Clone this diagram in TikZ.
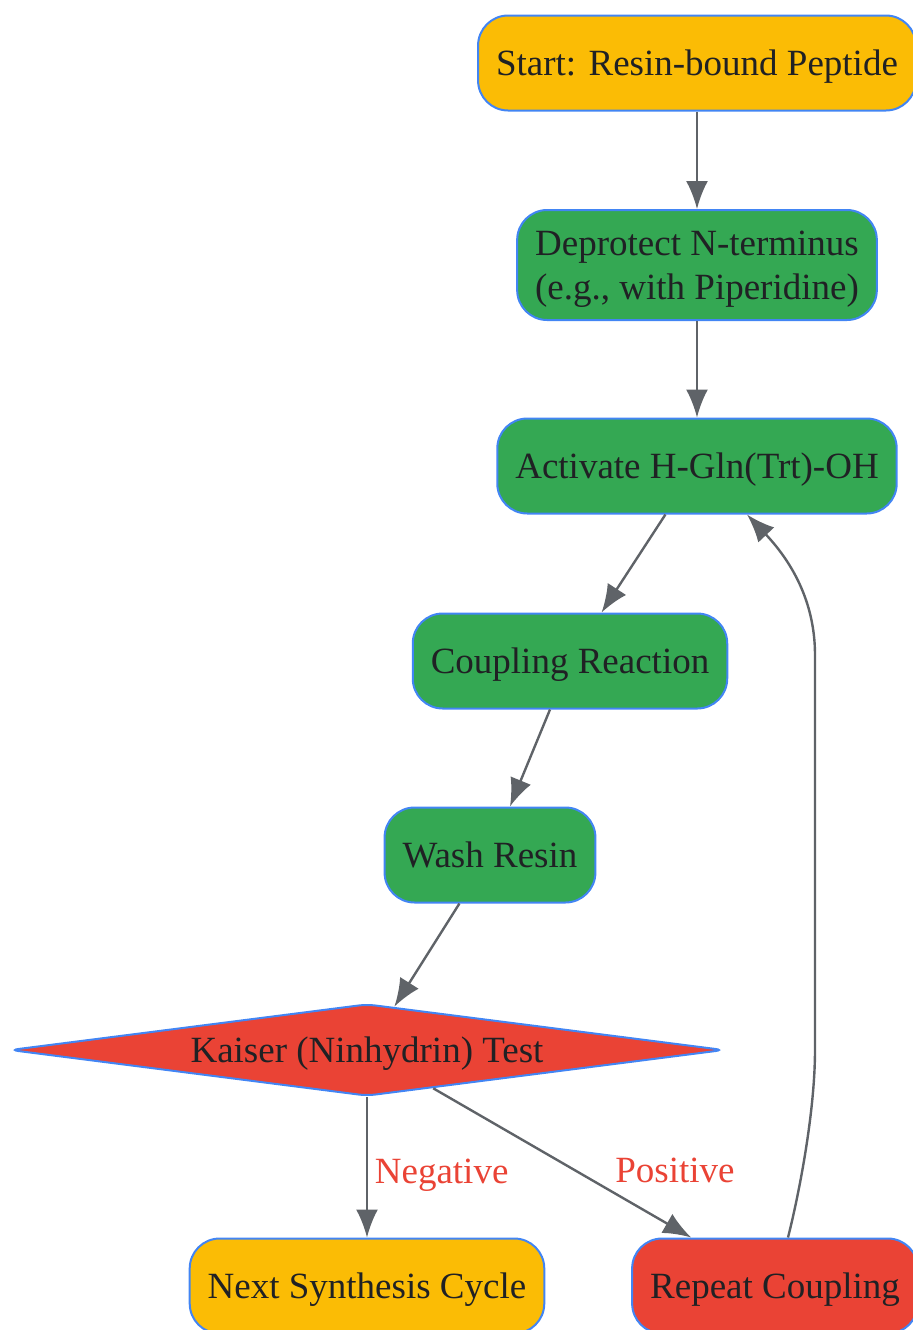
\documentclass[tikz,border=0pt]{standalone}
\usepackage{fontspec}
\setmainfont{Liberation Serif}
\usetikzlibrary{shapes.geometric,arrows.meta}
\definecolor{gyel}{HTML}{FBBC05}
\definecolor{ggrn}{HTML}{34A853}
\definecolor{gred}{HTML}{EA4335}
\definecolor{gblu}{HTML}{4285F4}
\definecolor{ggry}{HTML}{5F6368}
\definecolor{gtxt}{HTML}{202124}
\begin{document}
\begin{tikzpicture}[x=0.5pt,y=-0.5pt,
box/.style={draw=gblu,line width=1pt,rounded corners=15pt,text=gtxt,inner xsep=9pt,minimum height=47.5pt,text depth=0pt,font=\fontsize{18.5}{22}\selectfont,align=center},
arr/.style={draw=ggry,line width=1.2pt,-{Latex[length=14pt,width=11pt]}},
lbl/.style={text=gred,font=\fontsize{18.5}{22}\selectfont}]
\useasboundingbox (0,0) rectangle (913,1330);
\node[box,fill=gyel](start) at (697,63){Start: Resin-bound Peptide};
\node[box,fill=ggrn,minimum height=55pt](dep) at (697,265){Deprotect N-terminus\\(e.g., with Piperidine)};
\node[box,fill=ggrn](act) at (697,466){Activate H-Gln(Trt)-OH};
\node[box,fill=ggrn](coup) at (570,661){Coupling Reaction};
\node[box,fill=ggrn](wash) at (490,855){Wash Resin};
\node[draw=gblu,line width=1pt,fill=gred,shape=diamond,aspect=7.7,minimum width=357pt,minimum height=46pt,inner sep=0pt,rounded corners=4pt,text=gtxt,text depth=0pt,font=\fontsize{18.5}{22}\selectfont](kai) at (367,1050){Kaiser (Ninhydrin) Test};
\node[box,fill=gyel](next) at (367,1286){Next Synthesis Cycle};
\node[box,fill=gred](rep) at (775,1286){Repeat Coupling};
\draw[arr](start)--(dep);
\draw[arr](dep)--(act);
\draw[arr](act)--(coup);
\draw[arr](coup)--(wash);
\draw[arr](wash)--(kai);
\draw[arr](kai)--node[lbl,right,pos=0.56]{Negative}(next);
\draw[arr](kai)--(rep);
\node[lbl](pos) at (675,1170){Positive};
\draw[arr]([xshift=6.5pt]rep.north)..controls(800,1190)and(815,1110)..(815,1050)--(815,655)..controls(815,600)and(790,560)..([xshift=25pt]act.south);
\end{tikzpicture}
\end{document}
